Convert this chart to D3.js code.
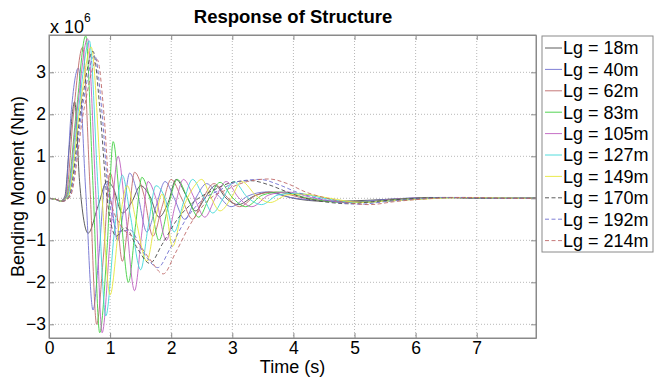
<!DOCTYPE html>
<html>
<head>
<meta charset="utf-8">
<script src="https://cdn.jsdelivr.net/npm/d3@7"></script>
<style>
  body { margin: 0; background: #fff; }
  svg { font-family: "Liberation Sans", Arial, sans-serif; }
</style>
</head>
<body>
<div id="chart"></div>
<script>
// Bending moment (x 10^6 Nm) against time (s), one array per girder length
const seriesLabels = ["Lg = 18m", "Lg = 40m", "Lg = 62m", "Lg = 83m", "Lg = 105m",
  "Lg = 127m", "Lg = 149m", "Lg = 170m", "Lg = 192m", "Lg = 214m"];

const lg18 = [[0,0],[0.1,-0.02],[0.19,-0.07],[0.26,0.05],[0.33,1.2],[0.42,2.3],[0.5,0.4],[0.64,-0.83],[0.8,-0.2],[0.95,0.4],[1.05,0.25],[1.2,-0.35],[1.35,-0.1],[1.5,0.3],[1.65,0.05],[1.8,-0.45],[1.95,-0.1],[2.08,0.45],[2.25,0.05],[2.4,-0.3],[2.55,0],[2.72,0.3],[2.9,0],[3.1,-0.15],[3.35,0.05],[3.6,0.15],[4.0,0],[4.5,-0.07],[5.0,-0.06],[5.6,-0.02],[6.4,0.02],[7.2,0],[7.97,0.01]];
const lg40 = [[0,0],[0.1,-0.02],[0.19,-0.07],[0.27,0.05],[0.36,2.0],[0.48,3.1],[0.6,0.2],[0.72,-2.66],[0.82,-1.3],[0.92,0.35],[1.02,-0.1],[1.12,-1.0],[1.22,-0.3],[1.32,0.6],[1.45,0.1],[1.6,-0.8],[1.75,-0.2],[1.9,0.4],[2.05,0],[2.22,-0.5],[2.4,0],[2.58,0.35],[2.78,0.05],[2.98,-0.2],[3.25,0.05],[3.55,0.15],[3.95,0.02],[4.5,-0.06],[5.0,-0.08],[5.5,-0.03],[6.2,0.02],[7.0,0.01],[7.97,0]];
const lg62 = [[0,0],[0.1,-0.02],[0.2,-0.07],[0.28,0.05],[0.4,2.0],[0.55,3.6],[0.67,0.3],[0.78,-3.0],[0.89,-1.4],[1.0,0.6],[1.1,-0.2],[1.2,-1.5],[1.3,-0.5],[1.4,0.62],[1.55,0.1],[1.7,-0.9],[1.85,-0.2],[2.0,0.45],[2.17,0],[2.35,-0.5],[2.52,0],[2.7,0.35],[2.92,0.02],[3.12,-0.2],[3.4,0.08],[3.7,0.15],[4.15,0.01],[4.7,-0.08],[5.2,-0.08],[5.7,-0.02],[6.5,0.02],[7.3,0],[7.97,0]];
const lg83 = [[0,0],[0.1,-0.02],[0.2,-0.07],[0.29,0.05],[0.45,2.1],[0.6,3.87],[0.72,0.3],[0.83,-3.2],[0.95,-1.2],[1.05,1.35],[1.17,-0.3],[1.3,-2.0],[1.42,-0.6],[1.52,0.5],[1.65,0],[1.8,-1.0],[1.95,-0.2],[2.1,0.45],[2.27,0],[2.45,-0.45],[2.62,0],[2.8,0.38],[3.0,0.02],[3.22,-0.2],[3.5,0.08],[3.8,0.15],[4.25,0],[4.8,-0.1],[5.3,-0.08],[5.8,-0.02],[6.6,0.02],[7.4,0],[7.97,0]];
const lg105 = [[0,0],[0.1,-0.02],[0.2,-0.07],[0.3,0.05],[0.47,2.2],[0.63,3.8],[0.76,0.3],[0.87,-3.2],[1.0,-1.0],[1.13,1.0],[1.25,-0.3],[1.4,-2.2],[1.52,-0.8],[1.62,0.4],[1.75,0],[1.92,-1.0],[2.06,-0.2],[2.2,0.45],[2.38,0],[2.55,-0.45],[2.72,0],[2.9,0.4],[3.1,0.02],[3.32,-0.2],[3.6,0.08],[3.9,0.15],[4.35,0],[4.9,-0.1],[5.4,-0.08],[5.9,-0.02],[6.7,0.02],[7.5,0],[7.97,0]];
const lg127 = [[0,0],[0.1,-0.02],[0.21,-0.07],[0.31,0.05],[0.49,2.2],[0.66,3.75],[0.8,0.3],[0.93,-2.8],[1.07,-0.8],[1.2,0.55],[1.33,-0.4],[1.5,-1.7],[1.62,-0.7],[1.75,0.3],[1.9,0],[2.05,-0.8],[2.2,-0.1],[2.35,0.45],[2.52,0.05],[2.68,-0.35],[2.85,0],[3.02,0.4],[3.25,0.02],[3.48,-0.15],[3.75,0.08],[4.05,0.12],[4.5,0],[5.0,-0.1],[5.5,-0.07],[6.0,-0.02],[6.8,0.02],[7.6,0],[7.97,0]];
const lg149 = [[0,0],[0.1,-0.02],[0.21,-0.07],[0.32,0.05],[0.51,2.2],[0.69,3.6],[0.86,0.2],[1.0,-2.3],[1.15,-0.6],[1.28,0.3],[1.42,-0.5],[1.6,-1.5],[1.73,-0.6],[1.85,0.1],[1.93,-0.4],[2.02,-1.15],[2.18,-0.3],[2.36,0.25],[2.5,0.45],[2.64,0.05],[2.8,-0.3],[2.98,0],[3.15,0.4],[3.4,0.05],[3.62,-0.1],[3.9,0.08],[4.15,0.1],[4.6,0],[5.1,-0.1],[5.6,-0.06],[6.1,-0.02],[6.9,0.02],[7.7,0],[7.97,0]];
const lg170 = [[0,0],[0.1,-0.02],[0.22,-0.07],[0.33,0.05],[0.53,2.2],[0.72,3.5],[0.84,2.0],[0.95,0],[1.1,-0.9],[1.25,-0.7],[1.45,-1.2],[1.65,-1.55],[1.85,-1.1],[2.1,-0.5],[2.4,-0.05],[2.7,0.2],[3.0,0.38],[3.3,0.42],[3.6,0.32],[3.9,0.15],[4.2,0],[4.6,-0.1],[4.9,-0.13],[5.3,-0.08],[5.8,-0.02],[6.5,0.02],[7.3,0],[7.97,0]];
const lg192 = [[0,0],[0.1,-0.02],[0.22,-0.07],[0.34,0.05],[0.55,2.2],[0.75,3.4],[0.87,2.0],[0.98,0],[1.15,-0.8],[1.32,-0.75],[1.55,-1.3],[1.78,-1.65],[1.98,-1.2],[2.22,-0.55],[2.5,-0.05],[2.8,0.2],[3.1,0.4],[3.45,0.45],[3.75,0.33],[4.05,0.15],[4.4,0],[4.8,-0.11],[5.1,-0.14],[5.5,-0.08],[6.0,-0.02],[6.7,0.02],[7.5,0],[7.97,0]];
const lg214 = [[0,0],[0.1,-0.02],[0.23,-0.07],[0.35,0.05],[0.57,2.1],[0.79,3.3],[0.9,2.0],[1.0,0],[1.2,-0.7],[1.4,-0.95],[1.65,-1.45],[1.87,-1.8],[2.07,-1.3],[2.32,-0.6],[2.6,-0.05],[2.9,0.2],[3.25,0.4],[3.6,0.46],[3.9,0.35],[4.2,0.15],[4.55,0],[4.95,-0.12],[5.25,-0.15],[5.65,-0.08],[6.1,-0.02],[6.8,0.02],[7.6,0],[7.97,0]];

const xTicks = [0, 1, 2, 3, 4, 5, 6, 7];
const yTicks = [-3, -2, -1, 0, 1, 2, 3];

const allSeries = [lg18, lg40, lg62, lg83, lg105, lg127, lg149, lg170, lg192, lg214];
const colors = ["#4a4a4a", "#7070d0", "#c06a6a", "#3fcf3f", "#c060c0", "#3fd8d8", "#e6e63a", "#4a4a4a", "#7070d0", "#c06a6a"];
const dashes = [null, null, null, null, null, null, null, "4,2.5", "4,2.5", "4,2.5"];

const W = 654, H = 380;
const margin = { top: 35, right: 118, bottom: 42, left: 49 };
const width = W - margin.left - margin.right;
const height = H - margin.top - margin.bottom;

const svg = d3.select("#chart").append("svg")
  .attr("width", W).attr("height", H);

const g = svg.append("g")
  .attr("transform", `translate(${margin.left},${margin.top})`);

const x = d3.scaleLinear().domain([0, 7.97]).range([0, width]);
const y = d3.scaleLinear().domain([-3.326, 3.888]).range([height, 0]);

// grid
g.append("g").selectAll("line").data(xTicks.slice(1)).enter().append("line")
  .attr("x1", d => x(d)).attr("x2", d => x(d))
  .attr("y1", 0).attr("y2", height)
  .attr("stroke", "#b8b8b8").attr("stroke-dasharray", "1,2");
g.append("g").selectAll("line").data(yTicks).enter().append("line")
  .attr("x1", 0).attr("x2", width)
  .attr("y1", d => y(d)).attr("y2", d => y(d))
  .attr("stroke", "#b8b8b8").attr("stroke-dasharray", "1,2");

// lines
g.append("clipPath").attr("id", "clip")
  .append("rect").attr("width", width).attr("height", height);

const line = d3.line()
  .x(d => x(d[0]))
  .y(d => y(d[1]))
  .curve(d3.curveMonotoneX);

g.append("g").attr("clip-path", "url(#clip)")
  .selectAll("path").data(allSeries).enter().append("path")
  .attr("d", line)
  .attr("fill", "none")
  .attr("stroke", (d, i) => colors[i])
  .attr("stroke-width", 0.9)
  .attr("stroke-dasharray", (d, i) => dashes[i]);

// axes (ticks inside, box on)
g.append("g")
  .attr("transform", `translate(0,${height})`)
  .call(d3.axisBottom(x).tickValues(xTicks).tickSizeInner(-5).tickSizeOuter(0).tickPadding(4));
g.append("g")
  .call(d3.axisLeft(y).tickValues(yTicks).tickSizeInner(-5).tickSizeOuter(0).tickPadding(3));
g.append("g")
  .call(d3.axisTop(x).tickValues(xTicks).tickSizeInner(-5).tickSizeOuter(0).tickFormat(""));
g.append("g")
  .attr("transform", `translate(${width},0)`)
  .call(d3.axisRight(y).tickValues(yTicks).tickSizeInner(-5).tickSizeOuter(0).tickFormat(""));

g.selectAll(".domain").attr("stroke", "#8a8a8a");
g.selectAll(".tick line").attr("stroke", "#8a8a8a");
g.selectAll(".tick text").attr("font-size", "17.5px").attr("fill", "#000")
  .attr("font-family", "Liberation Sans, Arial, sans-serif");

g.append("rect").attr("width", width).attr("height", height)
  .attr("fill", "none").attr("stroke", "#8a8a8a");

// titles
svg.append("text")
  .attr("x", margin.left + width / 2 + 0.5).attr("y", 23)
  .attr("text-anchor", "middle")
  .attr("font-size", "18.5px").attr("font-weight", "bold")
  .text("Response of Structure");

svg.append("text")
  .attr("x", margin.left + width / 2).attr("y", 373)
  .attr("text-anchor", "middle")
  .attr("font-size", "18px")
  .text("Time (s)");

svg.append("text")
  .attr("transform", `translate(24,${margin.top + height / 2}) rotate(-90)`)
  .attr("text-anchor", "middle")
  .attr("font-size", "18px")
  .text("Bending Moment (Nm)");

const exp = svg.append("text")
  .attr("x", 50).attr("y", 33)
  .attr("font-size", "18px")
  .text("x 10");
exp.append("tspan").attr("dy", -11).attr("font-size", "12px").text("6");

// legend
const legend = svg.append("g").attr("transform", "translate(542,36)");
legend.append("rect")
  .attr("width", 111).attr("height", 216)
  .attr("fill", "#fff").attr("stroke", "#8a8a8a");

const items = legend.selectAll(".item").data(seriesLabels).enter().append("g")
  .attr("transform", (d, i) => `translate(0,${12 + i * 21.4})`);
items.append("line")
  .attr("x1", 3).attr("x2", 20)
  .attr("stroke", (d, i) => colors[i])
  .attr("stroke-width", 0.9)
  .attr("stroke-dasharray", (d, i) => dashes[i]);
items.append("text")
  .attr("x", 21).attr("dy", "0.36em")
  .attr("font-size", "18px")
  .text(d => d);
</script>
</body>
</html>
